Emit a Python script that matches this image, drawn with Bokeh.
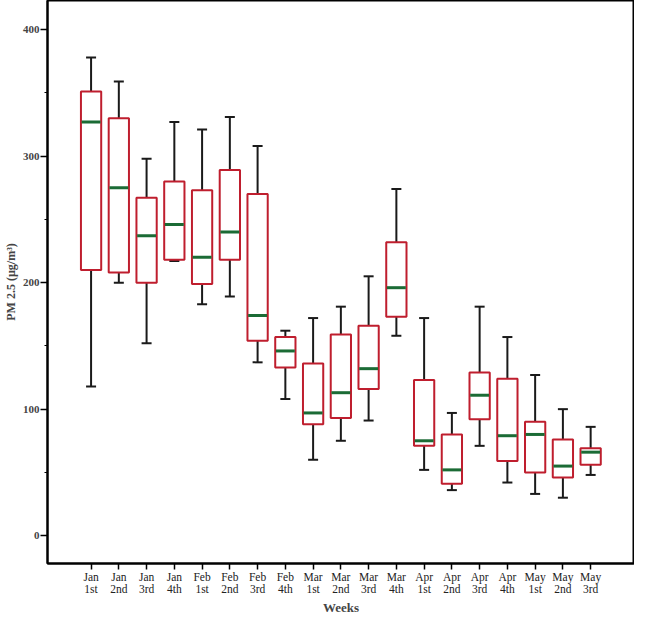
from bokeh.plotting import figure
from bokeh.models import ColumnDataSource, FixedTicker, Whisker, TeeHead
from bokeh.transform import dodge
from bokeh.embed import file_html
from bokeh.resources import INLINE

weeks = ["Jan\n1st", "Jan\n2nd", "Jan\n3rd", "Jan\n4th", "Feb\n1st", "Feb\n2nd", "Feb\n3rd",
         "Feb\n4th", "Mar\n1st", "Mar\n2nd", "Mar\n3rd", "Mar\n4th", "Apr\n1st", "Apr\n2nd",
         "Apr\n3rd", "Apr\n4th", "May\n1st", "May\n2nd", "May\n3rd"]
whisk_hi = [378, 359, 298, 327, 321, 331, 308, 162, 172, 181, 205, 274, 172, 97, 181, 157, 127, 100, 86]
q3 = [351, 330, 267, 280, 273, 289, 270, 157, 136, 159, 166, 232, 123, 80, 129, 124, 90, 76, 69]
median = [327, 275, 237, 246, 220, 240, 174, 146, 97, 113, 132, 196, 75, 52, 111, 79, 80, 55, 66]
q1 = [210, 208, 200, 218, 199, 218, 154, 133, 88, 93, 116, 173, 71, 41, 92, 59, 50, 46, 56]
whisk_lo = [118, 200, 152, 217, 183, 189, 137, 108, 60, 75, 91, 158, 52, 36, 71, 42, 33, 30, 48]
y_ticks = [0, 100, 200, 300, 400]
y_minor = [50, 150, 250, 350]

xpos = list(range(1, len(weeks) + 1))
src = ColumnDataSource(dict(x=xpos, hi=whisk_hi, q3=q3, med=median, q1=q1, lo=whisk_lo))

p = figure(width=634, height=617, x_range=(-0.57, 20.58), y_range=(-22, 423),
           output_backend="svg", toolbar_location=None,
           min_border_top=0, min_border_right=0, min_border_left=0, min_border_bottom=0)

p.xgrid.visible = False
p.ygrid.visible = False
p.outline_line_color = "black"
p.outline_line_width = 2
p.outline_line_alpha = 1

wh = Whisker(source=src, base="x", upper="hi", lower="lo", dimension="height",
             line_color="#1a1a1a", line_width=2,
             upper_head=TeeHead(size=10, line_color="#1a1a1a", line_width=2),
             lower_head=TeeHead(size=10, line_color="#1a1a1a", line_width=2),
             level="underlay")
p.add_layout(wh)

p.vbar(x="x", width=0.73, top="q3", bottom="q1", source=src,
       fill_color="white", line_color="#bf1e2e", line_width=2)
p.segment(x0=dodge("x", -0.34), x1=dodge("x", 0.34), y0="med", y1="med", source=src,
          line_color="#1b6b35", line_width=3)

p.xaxis.ticker = FixedTicker(ticks=xpos)
p.xaxis.major_label_overrides = {i: w for i, w in zip(xpos, weeks)}
p.xaxis.major_tick_in = 0
p.xaxis.major_tick_out = 6
p.xaxis.minor_tick_line_color = None
p.xaxis.axis_line_width = 2
p.xaxis.major_tick_line_width = 1.5
p.xaxis.major_label_text_font = "Liberation Serif"
p.xaxis.major_label_text_font_size = "11.5px"
p.xaxis.major_label_text_line_height = 1.0
p.xaxis.major_label_text_color = "#222222"
p.xaxis.major_label_standoff = 1
p.xaxis.axis_label = "Weeks"
p.xaxis.axis_label_text_font = "Liberation Serif"
p.xaxis.axis_label_text_font_style = "bold"
p.xaxis.axis_label_text_font_size = "13px"
p.xaxis.axis_label_text_line_height = 1.0
p.xaxis.axis_label_standoff = 2

p.yaxis.ticker = FixedTicker(ticks=y_ticks, minor_ticks=y_minor)
p.yaxis.major_tick_in = 0
p.yaxis.major_tick_out = 7
p.yaxis.minor_tick_in = 0
p.yaxis.minor_tick_out = 3
p.yaxis.axis_line_width = 2
p.yaxis.major_tick_line_width = 1.5
p.yaxis.major_label_text_font = "Liberation Serif"
p.yaxis.major_label_text_font_style = "bold"
p.yaxis.major_label_text_font_size = "11px"
p.yaxis.major_label_standoff = 1
p.yaxis.axis_label = "PM 2.5 (µg/m³)"
p.yaxis.axis_label_text_font = "Liberation Serif"
p.yaxis.axis_label_text_font_style = "bold"
p.yaxis.axis_label_text_font_size = "12px"
p.yaxis.axis_label_text_line_height = 1.0
p.yaxis.axis_label_standoff = 2

open("out.html", "w").write(file_html(p, INLINE))
